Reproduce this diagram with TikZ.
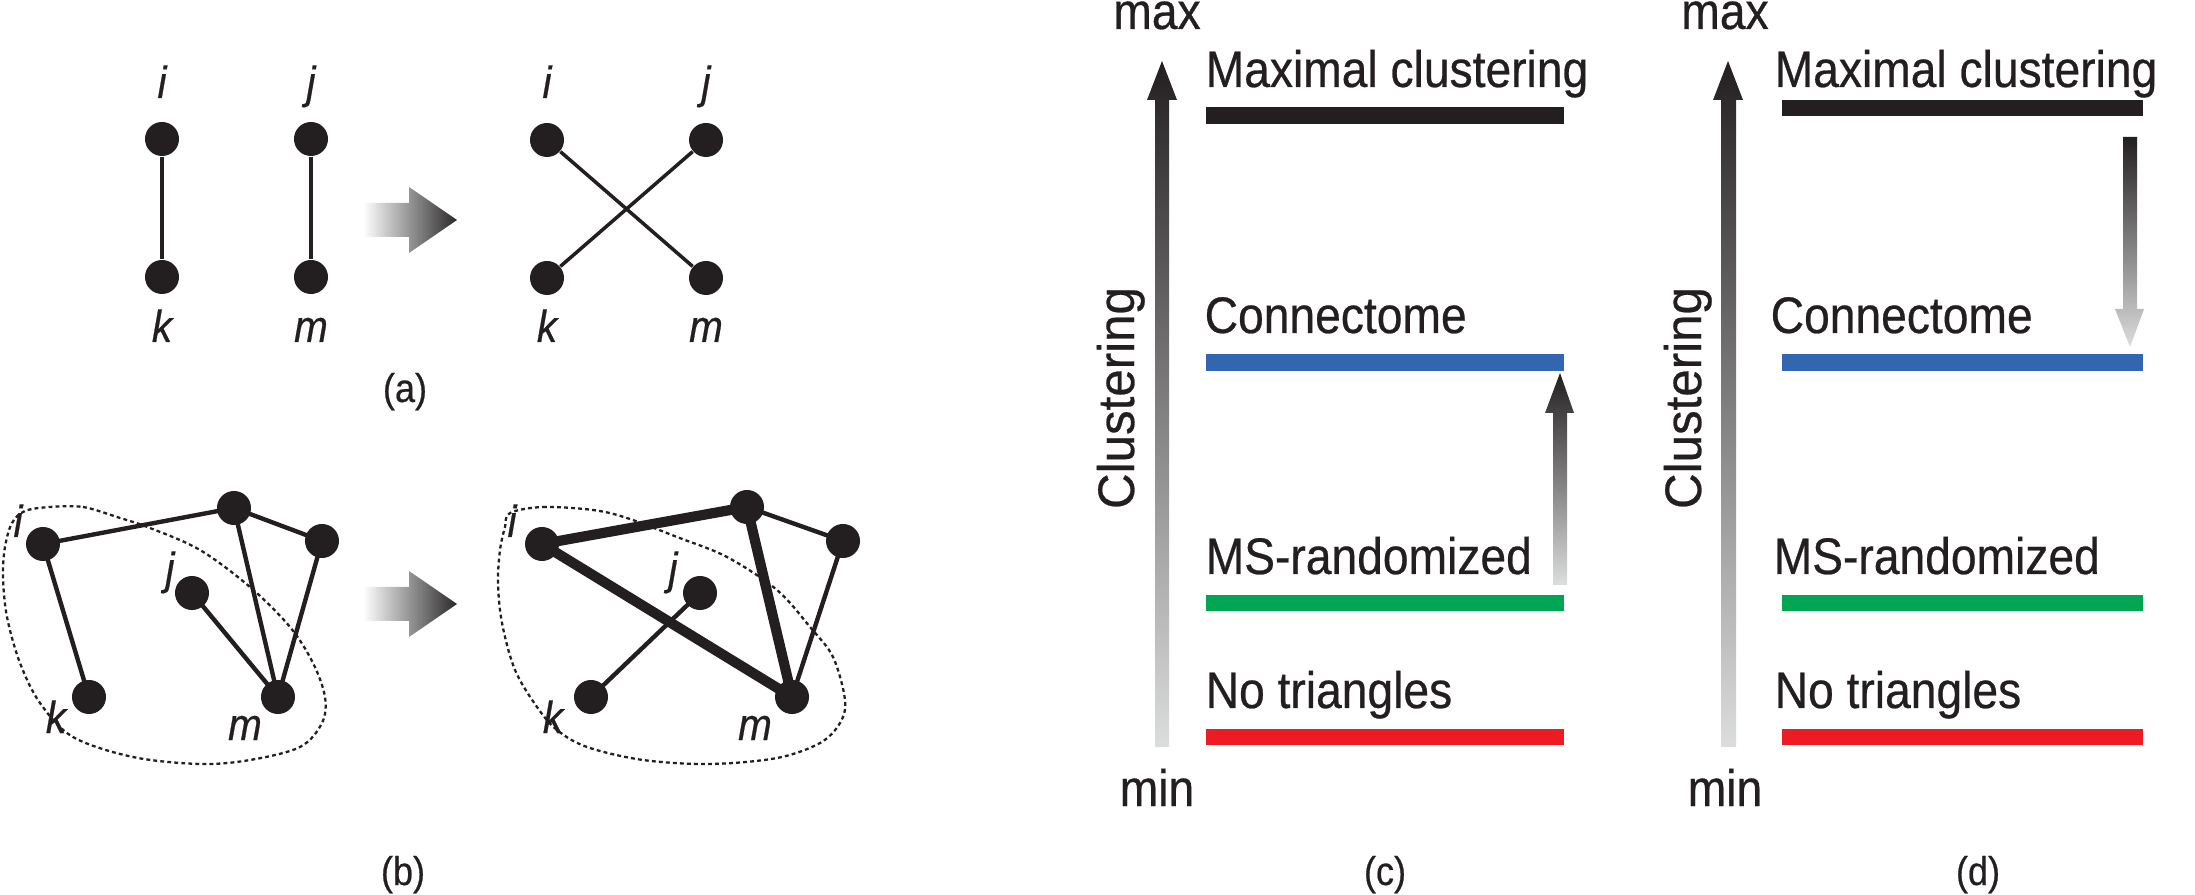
\documentclass[tikz,border=0pt]{standalone}
\usepackage{fontspec}
\setmainfont{Liberation Sans}[FakeStretch=0.9, FakeBold=0.5]
\newfontfamily\clfont{Liberation Sans}[FakeStretch=0.96, FakeBold=0.5]
\usetikzlibrary{backgrounds}
\definecolor{barblack}{HTML}{231F20}
\definecolor{barblue}{HTML}{3366B0}
\definecolor{bargreen}{HTML}{00A651}
\definecolor{barred}{HTML}{ED1C24}
\definecolor{darkgr}{HTML}{2A2829}
\definecolor{lightgr}{HTML}{DCDDDD}
\tikzset{
  dot/.style={circle, fill=barblack, inner sep=0pt, minimum size=0.34cm},
  edgeA/.style={line width=1pt, draw=barblack},
  edgeB/.style={line width=1.25pt, draw=barblack},
  edgeThick/.style={line width=2.9pt, draw=barblack},
  hull/.style={dash pattern=on 1.1pt off 0.9pt, line width=0.65pt, draw=barblack},
  vlab/.style={font=\fontsize{12.8}{14}\selectfont\itshape, text=barblack, inner sep=0pt, anchor=base},
  big/.style={font=\fontsize{14.6}{17}\selectfont, text=barblack, inner sep=0pt},
  sublabel/.style={font=\fontsize{11.4}{13}\selectfont, text=barblack, inner sep=0pt, anchor=base},
  grayarrowH/.style={left color=white, right color=darkgr},
  grayarrowUp/.style={bottom color=lightgr, top color=barblack},
  grayarrowDown/.style={top color=barblack, bottom color=lightgr},
}
\begin{document}
\begin{tikzpicture}[x=0.01cm, y=-0.01cm]
\useasboundingbox (0,0) rectangle (2195,895);

% ---------------- (a) ----------------
\node[dot] (ai) at (162,139) {};
\node[dot] (ak) at (162,277) {};
\node[dot] (aj) at (311,139) {};
\node[dot] (am) at (311,277) {};
\node[vlab] (ail) at (162,98) {i};
\node[vlab] (ajl) at (311,98) {j};
\node[vlab] (akl) at (162,342) {k};
\node[vlab] (aml) at (311,342) {m};
\draw[edgeA] (ai) -- (ak);
\draw[edgeA] (aj) -- (am);

\shade[grayarrowH] (363,203) -- (409,203) -- (409,187) -- (457,220) -- (409,253) -- (409,237) -- (363,237) -- cycle;

\node[dot] (bi) at (547,140) {};
\node[dot] (bj) at (706,140) {};
\node[dot] (bk) at (547,278) {};
\node[dot] (bm) at (706,278) {};
\node[vlab] (bil) at (547,98) {i};
\node[vlab] (bjl) at (706,98) {j};
\node[vlab] (bkl) at (547,342) {k};
\node[vlab] (bml) at (706,342) {m};
\draw[edgeA] (bi) -- (bm);
\draw[edgeA] (bj) -- (bk);

\node[sublabel] (capa) at (405,402) {(a)};

% ---------------- (b) ----------------
\draw[hull] plot[smooth cycle, tension=0.55] coordinates {
  (50,507) (83,507) (117,517) (150,528) (200,550) (250,587) (290,627)
  (313,663) (325,697) (322,723) (300,747) (250,760) (200,764) (133,757)
  (73,737) (40,703) (20,663) (7,617) (3,577) (5,547) (12,523) (25,511)};
\node[dot] (ci) at (43,544) {};
\node[dot] (ct) at (234,508) {};
\node[dot] (cr) at (322,541) {};
\node[dot] (cj) at (192,593) {};
\node[dot] (ck) at (89,697) {};
\node[dot] (cm) at (278,697) {};
\node[vlab] (cil) at (18,537) {i};
\node[vlab] (cjl) at (170,584) {j};
\node[vlab] (ckl) at (56,733) {k};
\node[vlab] (cml) at (245,740) {m};
\begin{scope}[on background layer]
\draw[edgeB] (ci.center) -- (ct.center);
\draw[edgeB] (ct.center) -- (cr.center);
\draw[edgeB] (ct.center) -- (cm.center);
\draw[edgeB] (cr.center) -- (cm.center);
\draw[edgeB] (cj.center) -- (cm.center);
\draw[edgeB] (ci.center) -- (ck.center);
\end{scope}

\shade[grayarrowH] (363,587) -- (409,587) -- (409,571) -- (457,604) -- (409,637) -- (409,621) -- (363,621) -- cycle;

\draw[hull] plot[smooth cycle, tension=0.55] coordinates {
  (510,513) (543,507) (593,510) (627,518) (677,537) (727,557) (777,590)
  (810,627) (833,657) (845,700) (840,723) (820,743) (777,758) (710,764)
  (643,760) (587,747) (557,730) (537,707) (515,670) (502,623) (498,583)
  (500,550) (505,527)};
\node[dot] (di) at (542,544) {};
\node[dot] (dt) at (747,507) {};
\node[dot] (dr) at (843,541) {};
\node[dot] (dj) at (700,593) {};
\node[dot] (dk) at (591,697) {};
\node[dot] (dm) at (792,697) {};
\node[vlab] (dil) at (512,537) {i};
\node[vlab] (djl) at (673,584) {j};
\node[vlab] (dkl) at (553,733) {k};
\node[vlab] (dml) at (755,740) {m};
\begin{scope}[on background layer]
\draw[edgeB] (dt.center) -- (dr.center);
\draw[edgeB] (dr.center) -- (dm.center);
\draw[edgeB] (dj.center) -- (dk.center);
\draw[edgeThick] (di.center) -- (dt.center);
\draw[edgeThick] (di.center) -- (dm.center);
\draw[edgeThick] (dt.center) -- (dm.center);
\end{scope}

\node[sublabel] (capb) at (403,885) {(b)};

% ---------------- (c) ----------------
\node[big, anchor=base] (cmax) at (1157,29) {max};
\node[big, anchor=base] (cmin) at (1157,806) {min};
\shade[grayarrowUp] (1155,747) -- (1155,100) -- (1147,100) -- (1162,61) -- (1177,100) -- (1169,100) -- (1169,747) -- cycle;
\node[big, font=\fontsize{14.6}{17}\clfont, rotate=90, anchor=base] (cclus) at (1134,398) {Clustering};

\fill[barblack] (1206,107) rectangle (1564,124);
\fill[barblue] (1206,354) rectangle (1564,371);
\fill[bargreen] (1206,595) rectangle (1564,611);
\fill[barred] (1206,729) rectangle (1564,745);
\node[big, anchor=base west] (cl1) at (1205,87) {Maximal clustering};
\node[big, anchor=base west] (cl2) at (1204,333) {Connectome};
\node[big, anchor=base west] (cl3) at (1205,574) {MS-randomized};
\node[big, anchor=base west] (cl4) at (1205,708) {No triangles};
\shade[grayarrowUp] (1553,585) -- (1553,413) -- (1545,413) -- (1560,373) -- (1574,413) -- (1567,413) -- (1567,585) -- cycle;
\node[sublabel] (capc) at (1385,885) {(c)};

% ---------------- (d) ----------------
\node[big, anchor=base] (dmax) at (1725,29) {max};
\node[big, anchor=base] (dmin) at (1725,806) {min};
\shade[grayarrowUp] (1721,747) -- (1721,100) -- (1713,100) -- (1728,61) -- (1743,100) -- (1736,100) -- (1736,747) -- cycle;
\node[big, font=\fontsize{14.6}{17}\clfont, rotate=90, anchor=base] (dclus) at (1701,398) {Clustering};

\fill[barblack] (1782,100) rectangle (2143,116);
\fill[barblue] (1782,354) rectangle (2143,371);
\fill[bargreen] (1782,595) rectangle (2143,611);
\fill[barred] (1782,729) rectangle (2143,745);
\node[big, anchor=base west] (dl1) at (1774,87) {Maximal clustering};
\node[big, anchor=base west] (dl2) at (1770,333) {Connectome};
\node[big, anchor=base west] (dl3) at (1773,574) {MS-randomized};
\node[big, anchor=base west] (dl4) at (1774,708) {No triangles};
\shade[grayarrowDown] (2123,137) -- (2137,137) -- (2137,309) -- (2144,309) -- (2130,347) -- (2115,309) -- (2123,309) -- cycle;
\node[sublabel] (capd) at (1978,885) {(d)};
\end{tikzpicture}
\end{document}
